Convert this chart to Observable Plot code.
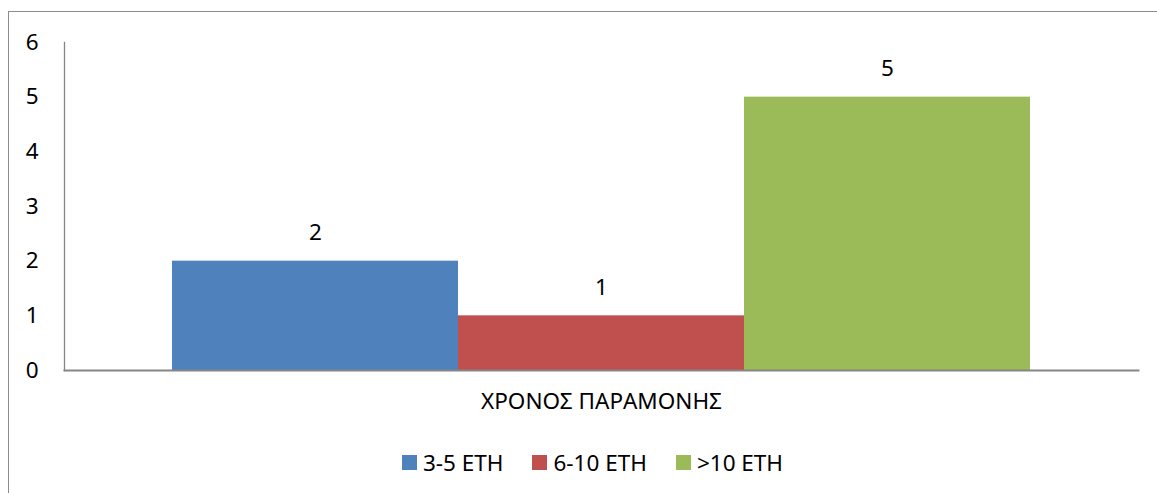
<!DOCTYPE html>
<html>
<head>
<meta charset="utf-8">
<script src="https://cdn.jsdelivr.net/npm/d3@7"></script>
<script src="https://cdn.jsdelivr.net/npm/@observablehq/plot@0.6"></script>
<style>
  html, body { margin: 0; padding: 0; background: #fff; overflow: hidden; }
  body { width: 1157px; height: 493px; position: relative; font-family: "Noto Sans", "DejaVu Sans", sans-serif; }
  #border { position: absolute; left: 8px; top: 11px; width: 1300px; height: 700px; border: 1px solid #8c8c8c; box-sizing: border-box; pointer-events: none; }
  #chart svg { display: block; }
  #legend { position: absolute; left: 0; top: 447px; width: 1157px; display: flex; justify-content: center; gap: 0; font-size: 22.5px; color: #000; padding-left: 28px; box-sizing: border-box; }
  .item { display: flex; align-items: center; margin: 0 14.5px; }
  .sw { width: 15px; height: 15px; margin-right: 6px; }
</style>
</head>
<body>
<div id="border"></div>
<div id="chart"></div>
<div id="legend"></div>
<script>
const categories = ["3-5 ΕΤΗ", "6-10 ΕΤΗ", ">10 ΕΤΗ"];
const values = [2, 1, 5];
const yTicks = [0, 1, 2, 3, 4, 5, 6];
const xTitle = "ΧΡΟΝΟΣ ΠΑΡΑΜΟΝΗΣ";
const colors = ["#4F81BD", "#C0504D", "#9BBB59"];

const data = categories.map((c, i) => ({cat: c, value: values[i]}));

const chart = Plot.plot({
  width: 1157,
  height: 430,
  marginTop: 42,
  marginBottom: 60,
  marginLeft: 64,
  marginRight: 19,
  style: {fontFamily: "'Noto Sans', 'DejaVu Sans', sans-serif", fontSize: "22.5px", color: "#000", background: "transparent"},
  x: {domain: categories, paddingInner: 0, paddingOuter: 0.372, axis: null},
  y: {domain: [0, 6], axis: null},
  color: {domain: categories, range: colors},
  marks: [
    Plot.barY(data, {x: "cat", y: "value", fill: "cat", inset: 0}),
    Plot.text(data, {x: "cat", y: "value", text: d => String(d.value), dy: -28, fill: "#000", fontSize: 22.5}),
    Plot.axisY({ticks: yTicks, tickSize: 0, tickPadding: 26, label: null, fontSize: 22.5, tickFormat: d => String(d)}),
    Plot.frame({anchor: "left", stroke: "#868686", strokeWidth: 1.3}),
    Plot.frame({anchor: "bottom", stroke: "#868686", strokeWidth: 2}),
    Plot.text([xTitle], {frameAnchor: "bottom", dy: 38, fontSize: 22.5, fill: "#000"})
  ]
});
document.getElementById("chart").appendChild(chart);

const legend = document.getElementById("legend");
categories.forEach((c, i) => {
  const item = document.createElement("div");
  item.className = "item";
  const sw = document.createElement("div");
  sw.className = "sw";
  sw.style.background = colors[i];
  const lab = document.createElement("span");
  lab.textContent = c;
  item.appendChild(sw);
  item.appendChild(lab);
  legend.appendChild(item);
});
</script>
</body>
</html>
